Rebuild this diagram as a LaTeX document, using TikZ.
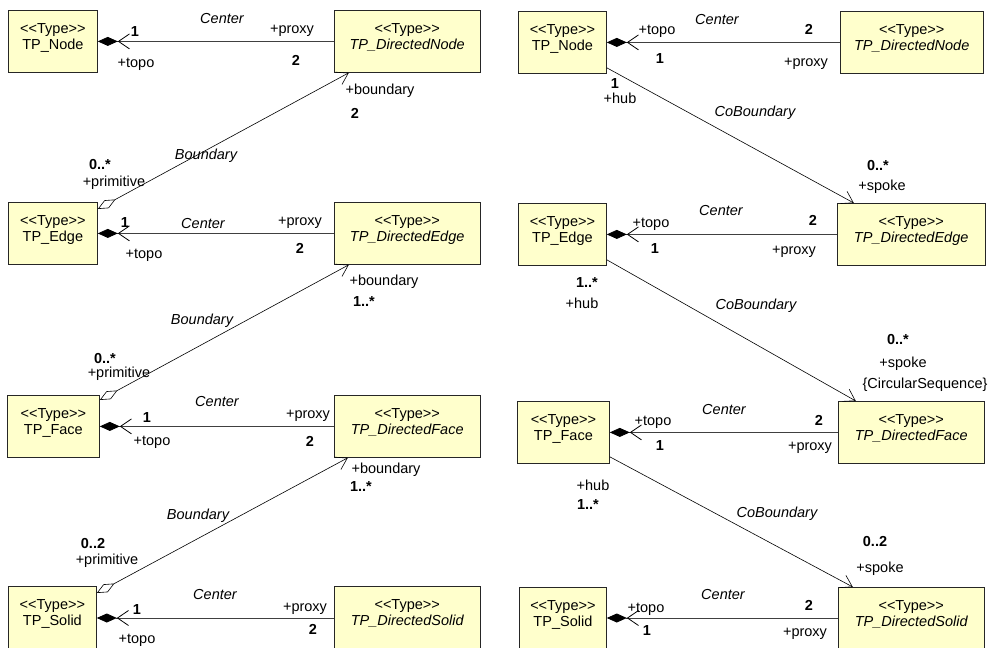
\documentclass[tikz,border=0pt]{standalone}
\usepackage{fontspec}
\setmainfont{Liberation Sans}
\usepackage{tikz}
\usetikzlibrary{positioning, arrows.meta}

\definecolor{classfill}{HTML}{FFFFCC}
\newcommand{\umlfont}{\fontsize{14.5}{16}\selectfont}
\newcommand{\stereo}[1]{\begin{tabular}[t]{@{}c@{}}<{}<Type>{}>\\#1\end{tabular}}

\begin{document}
\begin{tikzpicture}[
    x=1pt, y=-1pt,
    font=\umlfont,
    typebox/.style={draw=black!85, line width=0.8pt, fill=classfill,
               inner sep=0pt, text height=23pt, text depth=39pt,
               minimum width=89pt, anchor=north west, font=\umlfont},
    dirbox/.style={typebox, minimum width=146pt},
    cutbox/.style={text depth=80pt},
    role/.style={inner sep=0pt, text height=10.5pt, text depth=3pt, font=\umlfont},
    mult/.style={role, font=\umlfont\bfseries},
    assocname/.style={role, font=\umlfont\itshape},
    composite/.style={draw=black!75, line width=0.8pt,
               {Diamond[length=20pt, width=9pt, color=black]
                Straight Barb[length=11pt, width=15pt, color=black]}-},
    aggregate/.style={draw, line width=0.6pt,
               {Diamond[open, length=20pt, width=9pt, fill=white]}-{Straight Barb[length=11pt, width=14pt]}},
    navline/.style={draw, line width=0.6pt, -{Straight Barb[length=11pt, width=14pt]}}
]
\useasboundingbox (0,0) rectangle (989,648);
\clip (0,0) rectangle (989,648);
\fill[white] (0,0) rectangle (989,648);

%---------------- Left: Boundary hierarchy ----------------
\node[typebox] (LNode) at (8,10) {\stereo{TP\_Node}};
\node[dirbox, right=236pt of LNode] (LDNode) {\stereo{\itshape TP\_DirectedNode}};

\node[typebox] (LEdge) at (8,202) {\stereo{TP\_Edge}};
\node[dirbox, right=236pt of LEdge] (LDEdge) {\stereo{\itshape TP\_DirectedEdge}};

\node[typebox, minimum width=92pt] (LFace) at (7,395) {\stereo{TP\_Face}};
\node[dirbox, right=234pt of LFace] (LDFace) {\stereo{\itshape TP\_DirectedFace}};

\node[typebox, cutbox, minimum width=88pt] (LSolid) at (8,586) {\stereo{TP\_Solid}};
\node[dirbox, cutbox, right=237pt of LSolid] (LDSolid) {\stereo{\itshape TP\_DirectedSolid}};

\draw[composite] (LNode.east) -- (LDNode.west);
\draw[composite] (LEdge.east) -- (LDEdge.west);
\draw[composite] (LFace.east) -- (LDFace.west);
\draw[composite] ([yshift=-32pt]LSolid.north east) -- ([yshift=-32pt]LDSolid.north west);

\draw[aggregate] ([yshift=-7pt]LEdge.north east) -- ([xshift=15pt]LDNode.south west);
\draw[aggregate] ([yshift=-5pt]LFace.north east) -- ([xshift=15pt]LDEdge.south west);
\draw[aggregate] ([yshift=-7pt]LSolid.north east) -- ([xshift=14pt]LDFace.south west);

% node row
\node[assocname] (lnCenter) at (222,20) {Center};
\node[role] (lnProxy) at (292,30) {+proxy};
\node[mult] (lnOne) at (135,33) {1};
\node[role] (lnTopo) at (136,64) {+topo};
\node[mult] (lnTwo) at (296,62) {2};
\node[role] (lnBnd) at (380,91) {+boundary};
\node[mult] (lnBndM) at (355,115) {2};
\node[assocname] (leBoundary) at (206,156) {Boundary};
\node[mult] (lePrimM) at (100,166) {0..*};
\node[role] (lePrim) at (114,183) {+primitive};

% edge row
\node[mult] (leOne) at (125,224) {1};
\node[assocname] (leCenter) at (203,225) {Center};
\node[role] (leProxy) at (300,222) {+proxy};
\node[role] (leTopo) at (144,255) {+topo};
\node[mult] (leTwo) at (300,250) {2};
\node[role] (leBnd) at (384,282) {+boundary};
\node[mult] (leBndM) at (364,303) {1..*};
\node[assocname] (lfBoundary) at (202,321) {Boundary};
\node[mult] (lfPrimM) at (105,360) {0..*};
\node[role] (lfPrim) at (119,374) {+primitive};

% face row
\node[assocname] (lfCenter) at (217,403) {Center};
\node[role] (lfProxy) at (308,415) {+proxy};
\node[mult] (lfOne) at (147,419) {1};
\node[role] (lfTopo) at (152,442) {+topo};
\node[mult] (lfTwo) at (310,443) {2};
\node[role] (lfBnd) at (386,470) {+boundary};
\node[mult] (lfBndM) at (361,488) {1..*};
\node[assocname] (lsBoundary) at (198,516) {Boundary};
\node[mult] (lsPrimM) at (93,545) {0..2};
\node[role] (lsPrim) at (107,561) {+primitive};

% solid row
\node[assocname] (lsCenter) at (215,596) {Center};
\node[role] (lsProxy) at (305,608) {+proxy};
\node[mult] (lsOne) at (137,611) {1};
\node[role] (lsTopo) at (137,640) {+topo};
\node[mult] (lsTwo) at (313,631) {2};

%---------------- Right: CoBoundary hierarchy ----------------
\node[typebox, minimum width=88pt] (RNode) at (518,11) {\stereo{TP\_Node}};
\node[dirbox, minimum width=143pt, right=233pt of RNode] (RDNode) {\stereo{\itshape TP\_DirectedNode}};

\node[typebox, minimum width=88pt] (REdge) at (518,203) {\stereo{TP\_Edge}};
\node[dirbox, minimum width=148pt, right=230pt of REdge] (RDEdge) {\stereo{\itshape TP\_DirectedEdge}};

\node[typebox, minimum width=92pt] (RFace) at (517,401) {\stereo{TP\_Face}};
\node[dirbox, right=228pt of RFace] (RDFace) {\stereo{\itshape TP\_DirectedFace}};

\node[typebox, cutbox, minimum width=87pt] (RSolid) at (519,587) {\stereo{TP\_Solid}};
\node[dirbox, cutbox, right=231pt of RSolid] (RDSolid) {\stereo{\itshape TP\_DirectedSolid}};

\draw[composite] (RNode.east) -- (RDNode.west);
\draw[composite] (REdge.east) -- (RDEdge.west);
\draw[composite] (RFace.east) -- (RDFace.west);
\draw[composite] ([yshift=-31pt]RSolid.north east) -- ([yshift=-31pt]RDSolid.north west);

\draw[navline] ([yshift=6pt]RNode.south east) -- ([xshift=17pt]RDEdge.north west);
\draw[navline] ([yshift=6pt]REdge.south east) -- ([xshift=18pt]RDFace.north west);
\draw[navline] ([yshift=7pt]RFace.south east) -- ([xshift=15pt]RDSolid.north west);

% node row
\node[role] (rnTopo) at (657,31) {+topo};
\node[assocname] (rnCenter) at (717,21) {Center};
\node[mult] (rnTwo) at (809,31) {2};
\node[mult] (rnOne) at (660,60) {1};
\node[role] (rnProxy) at (806,63) {+proxy};
\node[mult] (rnHubM) at (615,85) {1};
\node[role] (rnHub) at (620,100) {+hub};
\node[assocname] (reCoBnd) at (755,113) {CoBoundary};
\node[mult] (reSpokeM) at (878,167) {0..*};
\node[role] (reSpoke) at (882,187) {+spoke};

% edge row
\node[assocname] (reCenter) at (721,212) {Center};
\node[role] (reTopo) at (651,224) {+topo};
\node[mult] (reTwo) at (813,222) {2};
\node[mult] (reOne) at (655,250) {1};
\node[role] (reProxy) at (794,251) {+proxy};
\node[mult] (reHubM) at (587,284) {1..*};
\node[role] (reHub) at (582,305) {+hub};
\node[assocname] (rfCoBnd) at (756,306) {CoBoundary};
\node[mult] (rfSpokeM) at (898,341) {0..*};
\node[role] (rfSpoke) at (903,364) {+spoke};
\node[role] (rfSeq) at (925,385) {\{CircularSequence\}};

% face row
\node[assocname] (rfCenter) at (724,411) {Center};
\node[role] (rfTopo) at (653,422) {+topo};
\node[mult] (rfTwo) at (819,422) {2};
\node[mult] (rfOne) at (660,447) {1};
\node[role] (rfProxy) at (810,447) {+proxy};
\node[role] (rfHub) at (593,487) {+hub};
\node[mult] (rfHubM) at (588,506) {1..*};
\node[assocname] (rsCoBnd) at (777,514) {CoBoundary};
\node[mult] (rsSpokeM) at (875,543) {0..2};
\node[role] (rsSpoke) at (880,569) {+spoke};

% solid row
\node[assocname] (rsCenter) at (723,596) {Center};
\node[role] (rsTopo) at (646,609) {+topo};
\node[mult] (rsTwo) at (809,607) {2};
\node[mult] (rsOne) at (647,632) {1};
\node[role] (rsProxy) at (805,633) {+proxy};

\end{tikzpicture}
\end{document}
